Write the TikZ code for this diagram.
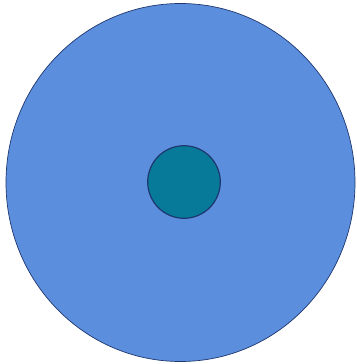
\documentclass[tikz,border=0pt]{standalone}
\definecolor{bigblue}{RGB}{92,142,222}
\definecolor{smallteal}{RGB}{6,122,152}
\definecolor{edgeblue}{RGB}{30,55,110}
\tikzset{
  outer/.style={fill=bigblue, draw=edgeblue, line width=0.7pt},
  inner/.style={fill=smallteal, draw=edgeblue, line width=1.2pt}
}
\begin{document}
\begin{tikzpicture}[x=1pt,y=-1pt]
\useasboundingbox[fill=white] (0,0) rectangle (356,364);
\path[outer] (180.5,182.5) ellipse [x radius=174.5, y radius=179];
\path[inner] (184,182) circle [radius=36.3];
\end{tikzpicture}
\end{document}
